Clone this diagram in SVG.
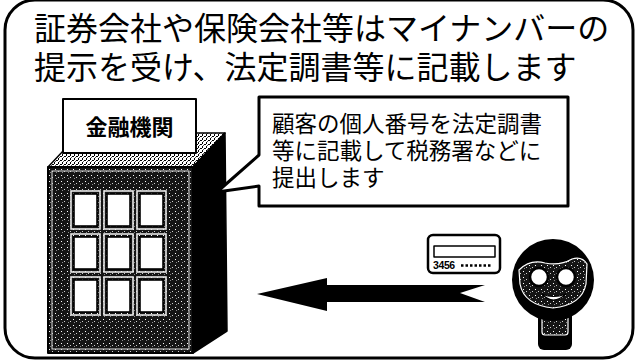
<svg xmlns="http://www.w3.org/2000/svg" width="637" height="361" viewBox="0 0 637 361">
  <defs>
    <style>
      .jp { font-family: "Noto Sans CJK JP", "Noto Sans", sans-serif; fill: #000; }
      .title { font-size: 32px; }
      .say { font-size: 22.5px; }
      .ink { stroke: #000; stroke-linejoin: round; }
      .win-frame { fill: none; stroke: #e8e8e8; stroke-width: 1.6; }
      .win { fill: #fff; stroke: #000; stroke-width: 1.6; }
    </style>
    <!-- screen tones used on the building and the face -->
    <pattern id="toneDark" width="6" height="6" patternUnits="userSpaceOnUse">
      <rect width="6" height="6" fill="#151515"/>
      <rect x="1" y="1" width="1" height="1" fill="#fff"/>
      <rect x="4" y="3" width="1" height="1" fill="#cfcfcf"/>
      <rect x="2" y="4" width="1" height="1" fill="#8a8a8a"/>
    </pattern>
    <pattern id="toneLight" width="4" height="4" patternUnits="userSpaceOnUse">
      <rect width="4" height="4" fill="#ffffff"/>
      <rect x="0" y="0" width="2" height="1" fill="#000"/>
      <rect x="2" y="2" width="1" height="2" fill="#000"/>
      <rect x="3" y="1" width="1" height="1" fill="#555"/>
    </pattern>
  </defs>

  <rect width="637" height="361" fill="#fff"/>

  <!-- rounded outer frame -->
  <rect id="frame" x="5" y="0" width="628" height="358" rx="30" fill="none" stroke="#000" stroke-width="3"/>

  <!-- heading -->
  <g id="title">
    <text class="jp title" x="34" y="40">証券会社や保険会社等はマイナンバーの</text>
    <text class="jp title" x="34" y="79">提示を受け、法定調書等に記載します</text>
  </g>

  <!-- financial institution building -->
  <g id="building">
    <polygon points="48,167 193,167 225,133 80,133" fill="url(#toneLight)" class="ink" stroke-width="1.5"/>
    <polygon points="193,167 225,133 227,331 193,353" fill="#000" class="ink" stroke-width="1.5"/>
    <rect x="48" y="167" width="145" height="186" fill="url(#toneDark)" class="ink" stroke-width="2"/>
    <rect x="52" y="171" width="137" height="178" fill="none" stroke="#e0e0e0" stroke-width="1"/>
    <g>
      <rect class="win-frame" x="71" y="191" width="29" height="38"/>
      <rect class="win-frame" x="104" y="191" width="29" height="38"/>
      <rect class="win-frame" x="137" y="191" width="29" height="38"/>
      <rect class="win-frame" x="71" y="234" width="29" height="38"/>
      <rect class="win-frame" x="104" y="234" width="29" height="38"/>
      <rect class="win-frame" x="137" y="234" width="29" height="38"/>
      <rect class="win-frame" x="71" y="277" width="29" height="38"/>
      <rect class="win-frame" x="104" y="277" width="29" height="38"/>
      <rect class="win-frame" x="137" y="277" width="29" height="38"/>
      <rect class="win" x="74" y="194" width="23" height="32"/>
      <rect class="win" x="107" y="194" width="23" height="32"/>
      <rect class="win" x="140" y="194" width="23" height="32"/>
      <rect class="win" x="74" y="237" width="23" height="32"/>
      <rect class="win" x="107" y="237" width="23" height="32"/>
      <rect class="win" x="140" y="237" width="23" height="32"/>
      <rect class="win" x="74" y="280" width="23" height="32"/>
      <rect class="win" x="107" y="280" width="23" height="32"/>
      <rect class="win" x="140" y="280" width="23" height="32"/>
    </g>
  </g>

  <!-- sign on the roof -->
  <g id="sign">
    <rect x="63" y="99" width="133" height="54" fill="#fff" class="ink" stroke-width="2"/>
    <text class="jp" x="129.5" y="135" font-size="22" font-weight="bold" text-anchor="middle">金融機関</text>
  </g>

  <!-- speech callout from the building -->
  <g id="callout">
    <path d="M259,155 L259,97 L568,97 L568,206 L259,206 L259,186 L217,192 Z" fill="#fff" class="ink" stroke-width="3"/>
    <text class="jp say" x="272" y="132">顧客の個人番号を法定調書</text>
    <text class="jp say" x="272" y="159">等に記載して税務署などに</text>
    <text class="jp say" x="272" y="186">提出します</text>
  </g>

  <!-- individual number card -->
  <g id="card">
    <rect x="428" y="235" width="72" height="38" rx="5" fill="#fff" class="ink" stroke-width="2.5"/>
    <rect x="434" y="246" width="61" height="11" fill="#fff" class="ink" stroke-width="1.5"/>
    <text x="433" y="269" font-family="Liberation Sans, Arial, sans-serif" font-size="10.5" font-weight="bold" letter-spacing="-0.4">3456</text>
    <line x1="461" y1="265.5" x2="492" y2="265.5" stroke="#000" stroke-width="2.5" stroke-dasharray="2.5 2"/>
  </g>

  <!-- customer -->
  <g id="person">
    <rect x="538" y="300" width="34" height="50" rx="6" fill="#000"/>
    <rect x="542" y="310" width="26" height="25" rx="3" fill="url(#toneDark)" stroke="#fff" stroke-width="1.2"/>
    <circle cx="553" cy="280" r="41" fill="#000"/>
    <path d="M519,270 Q530,259 545,263 Q560,266 572,259 Q582,256 587,264 L586,284 Q582,305 553,308 Q524,305 520,284 Z" fill="url(#toneDark)" stroke="#fff" stroke-width="1.2"/>
    <circle cx="539" cy="277" r="9" fill="#fff" stroke="#000" stroke-width="2.5"/>
    <circle cx="566" cy="277" r="9" fill="#fff" stroke="#000" stroke-width="2.5"/>
    <path d="M542,294 Q553,306 566,294 Q553,299 542,294 Z" fill="#fff" stroke="#000" stroke-width="1.2"/>
  </g>

  <!-- flow arrow: customer to institution -->
  <g id="connectors">
    <path d="M257,294 L327,278 L327,285 L485,285 L460,293 L485,302 L327,302 L327,311 Z" fill="#000"/>
  </g>
</svg>
